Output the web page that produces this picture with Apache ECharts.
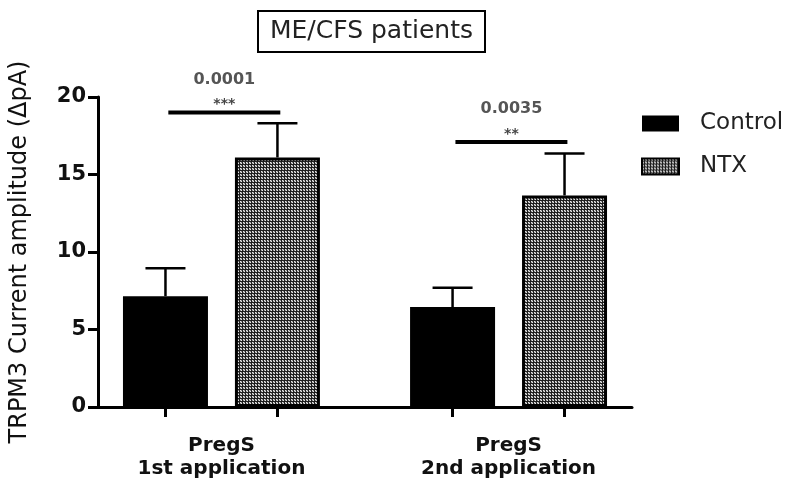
<!DOCTYPE html>
<html>
<head>
<meta charset="utf-8">
<script src="https://cdn.jsdelivr.net/npm/echarts@6/dist/echarts.min.js"></script>
<style>
  html, body { margin: 0; padding: 0; background: #fff; }
  #chart { width: 793px; height: 480px; }
</style>
</head>
<body>
<div id="chart"></div>
<script>
// ---- data ----
var groups = ['PregS\n1st application', 'PregS\n2nd application'];
var controlMean = [7.15, 6.45];
var controlErr = [1.8, 1.25];
var ntxMean = [16.1, 13.65];
var ntxErr = [2.2, 2.7];
var pValues = ['0.0001', '0.0035'];
var stars = ['***', '**'];
var sigLevel = [19.0, 17.1];
var yTicks = [0, 5, 10, 15, 20];

// group centres on the x value axis, bars sit either side of them
var groupPos = [0, 1];
var half = 0.195;

// checkered fill for the NTX bars
var pat = document.createElement('canvas');
pat.width = 3;
pat.height = 3;
var pc = pat.getContext('2d');
pc.fillStyle = '#1e1e1e';
pc.fillRect(0, 0, 3, 3);
pc.fillStyle = '#8a8a8a';
pc.fillRect(0, 0, 2, 2);
pc.fillStyle = '#e8e8e8';
pc.fillRect(0, 0, 1, 1);
pc.fillRect(1, 1, 1, 1);

var ctrlData = [], ntxData = [], errData = [], sigData = [];
for (var i = 0; i < groups.length; i++) {
    ctrlData.push([groupPos[i] - half, controlMean[i]]);
    ntxData.push([groupPos[i] + half, ntxMean[i]]);
    errData.push([groupPos[i] - half, controlMean[i], controlMean[i] + controlErr[i]]);
    errData.push([groupPos[i] + half, ntxMean[i], ntxMean[i] + ntxErr[i]]);
    sigData.push([groupPos[i] - half + 0.01, groupPos[i] + half + 0.01, sigLevel[i], i]);
}
var tickVals = [];
ctrlData.forEach(function (d, k) { tickVals.push(d[0], ntxData[k][0]); });

var myChart = echarts.init(document.getElementById('chart'));

var option = {
    animation: false,
    title: {
        text: 'ME/CFS patients',
        left: 258,
        top: 11,
        padding: [8, 12],
        borderColor: '#000',
        borderWidth: 2,
        textStyle: {
            fontFamily: 'DejaVu Sans',
            fontSize: 25,
            fontWeight: 'normal',
            color: '#222'
        }
    },
    legend: {
        orient: 'vertical',
        left: 641,
        top: 112,
        icon: 'rect',
        itemWidth: 37,
        itemHeight: 16,
        itemGap: 20,
        padding: 0,
        data: ['Control', 'NTX'],
        textStyle: {
            fontFamily: 'DejaVu Sans',
            fontSize: 23,
            color: '#222',
            padding: [0, 0, 0, 16]
        }
    },
    grid: { left: 95, right: 161, top: 97, bottom: 73 },
    xAxis: {
        type: 'value',
        min: -0.43,
        max: 1.43,
        splitLine: { show: false },
        axisLine: { show: true, onZero: false, lineStyle: { color: '#000', width: 3 } },
        axisTick: {
            show: true,
            customValues: tickVals,
            length: 10,
            lineStyle: { color: '#000', width: 3 }
        },
        axisLabel: {
            customValues: groupPos,
            margin: 27,
            fontFamily: 'DejaVu Sans',
            fontWeight: 'bold',
            fontSize: 20,
            lineHeight: 23,
            color: '#111',
            formatter: function (v) {
                var idx = groupPos.indexOf(v);
                return idx >= 0 ? groups[idx] : '';
            }
        }
    },
    yAxis: {
        type: 'value',
        min: 0,
        max: 20,
        interval: 5,
        name: 'TRPM3 Current amplitude (\u0394pA)',
        nameLocation: 'middle',
        nameGap: 66,
        nameTextStyle: {
            fontFamily: 'DejaVu Sans',
            fontSize: 24,
            color: '#111'
        },
        splitLine: { show: false },
        axisLine: { show: true, onZero: false, lineStyle: { color: '#000', width: 3 } },
        axisTick: { show: true, length: 10, lineStyle: { color: '#000', width: 3 } },
        axisLabel: {
            margin: 12,
            fontFamily: 'DejaVu Sans',
            fontWeight: 'bold',
            fontSize: 21,
            color: '#111',
            formatter: function (v) {
                return yTicks.indexOf(v) >= 0 ? String(v) : '';
            }
        }
    },
    series: [
        {
            name: 'Control',
            type: 'bar',
            barWidth: 85,
            barGap: '-100%',
            data: ctrlData,
            itemStyle: { color: '#000' }
        },
        {
            name: 'NTX',
            type: 'bar',
            barWidth: 85,
            barGap: '-100%',
            data: ntxData,
            itemStyle: {
                color: { image: pat, repeat: 'repeat' },
                borderColor: '#000',
                borderWidth: 3
            }
        },
        {
            type: 'custom',
            clip: false,
            silent: true,
            z: 3,
            data: errData,
            encode: { x: 0, y: [1, 2] },
            renderItem: function (params, api) {
                var x = api.value(0);
                var p0 = api.coord([x, api.value(1)]);
                var p1 = api.coord([x, api.value(2)]);
                var st = { stroke: '#000', lineWidth: 2.5 };
                return {
                    type: 'group',
                    children: [
                        { type: 'line', shape: { x1: p0[0], y1: p0[1], x2: p1[0], y2: p1[1] }, style: st },
                        { type: 'line', shape: { x1: p1[0] - 20, y1: p1[1], x2: p1[0] + 20, y2: p1[1] }, style: st }
                    ]
                };
            }
        },
        {
            type: 'custom',
            clip: false,
            silent: true,
            z: 3,
            data: sigData,
            encode: { x: [0, 1], y: 2 },
            renderItem: function (params, api) {
                var a = api.coord([api.value(0), api.value(2)]);
                var b = api.coord([api.value(1), api.value(2)]);
                var k = api.value(3);
                var cx = (a[0] + b[0]) / 2;
                return {
                    type: 'group',
                    children: [
                        { type: 'line', shape: { x1: a[0], y1: a[1], x2: b[0], y2: b[1] }, style: { stroke: '#000', lineWidth: 4 } },
                        { type: 'text', style: { text: stars[k], x: cx, y: a[1] - 8, align: 'center', verticalAlign: 'middle', fill: '#444', font: 'bold 14px DejaVu Sans' } },
                        { type: 'text', style: { text: pValues[k], x: cx, y: a[1] - 33, align: 'center', verticalAlign: 'middle', fill: '#555', font: 'bold 16px DejaVu Sans' } }
                    ]
                };
            }
        }
    ]
};

myChart.setOption(option);
</script>
</body>
</html>
